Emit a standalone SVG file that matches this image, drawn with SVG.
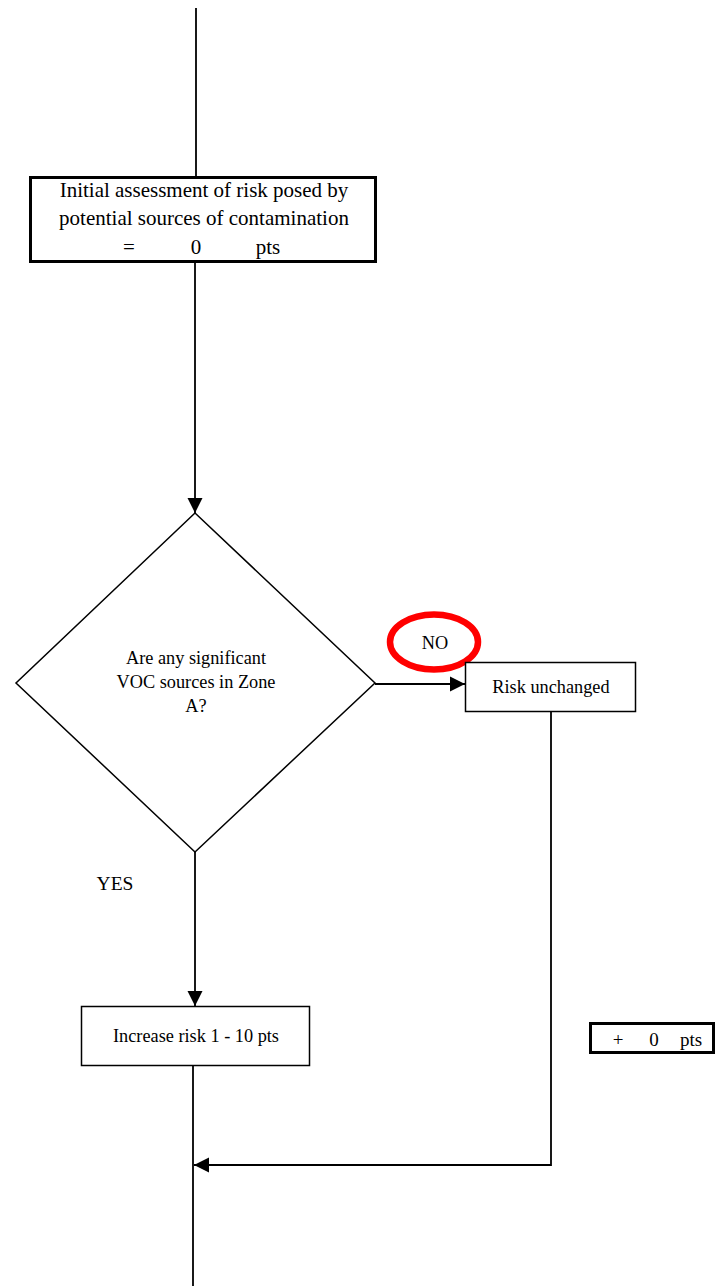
<svg xmlns="http://www.w3.org/2000/svg" width="723" height="1286" viewBox="0 0 723 1286">
<style>
text{font-family:"Liberation Serif","Times New Roman",serif;fill:#000}
.big{font-size:21px}
.mid{font-size:18.3px}
.box{fill:#fff;stroke:#000;stroke-width:1.5}
.thick{fill:#fff;stroke:#000;stroke-width:3}
.ln{fill:none;stroke:#000;stroke-width:1.8}
</style>
<defs>
<marker id="ah" markerUnits="userSpaceOnUse" markerWidth="16" markerHeight="16" viewBox="0 0 16 16" refX="15" refY="8" orient="auto">
<polygon points="0,0.5 15,8 0,15.5" fill="#000"/>
</marker>
</defs>
<g id="connectors">
<line class="ln" x1="196" y1="8" x2="196" y2="176"/>
<line class="ln" x1="195" y1="263" x2="195" y2="513" marker-end="url(#ah)"/>
<line class="ln" x1="375" y1="684" x2="465" y2="684" marker-end="url(#ah)"/>
<line class="ln" x1="195" y1="852" x2="195" y2="1006" marker-end="url(#ah)"/>
<line class="ln" x1="193" y1="1066" x2="193" y2="1286"/>
<polyline class="ln" points="551,712 551,1165 194,1165" marker-end="url(#ah)"/>
</g>
<g id="initial">
<rect class="thick" x="30.5" y="177.5" width="345" height="84"/>
<text class="big" x="204" y="197" text-anchor="middle">Initial assessment of risk posed by</text>
<text class="big" x="204" y="225" text-anchor="middle">potential sources of contamination</text>
<text class="big" x="129" y="254" text-anchor="middle">=</text>
<text class="big" x="196" y="254" text-anchor="middle">0</text>
<text class="big" x="268" y="254" text-anchor="middle">pts</text>
</g>
<g id="decision">
<polygon class="box" points="195,513 375,683 195,852 16,683"/>
<text class="mid" x="196" y="664" text-anchor="middle">Are any significant</text>
<text class="mid" x="196" y="688" text-anchor="middle">VOC sources in Zone</text>
<text class="mid" x="196" y="712" text-anchor="middle">A?</text>
</g>
<g id="no-label">
<ellipse cx="434" cy="642" rx="44" ry="27.5" fill="none" stroke="#ff0000" stroke-width="6.5"/>
<text class="mid" x="435" y="649" text-anchor="middle">NO</text>
</g>
<g id="yes-label">
<text x="115" y="890" text-anchor="middle" style="font-size:19.5px">YES</text>
</g>
<g id="unchanged">
<rect class="box" x="465.5" y="662.5" width="170" height="49"/>
<text class="mid" x="551" y="693" text-anchor="middle">Risk unchanged</text>
</g>
<g id="increase">
<rect class="box" x="81.5" y="1006.5" width="228" height="59"/>
<text class="mid" x="196" y="1042" text-anchor="middle">Increase risk 1 - 10 pts</text>
</g>
<g id="plus-zero">
<rect class="thick" x="590.5" y="1023.5" width="123" height="29"/>
<text x="618" y="1046" text-anchor="middle" style="font-size:19px">+</text>
<text x="654" y="1046" text-anchor="middle" style="font-size:19px">0</text>
<text x="691" y="1046" text-anchor="middle" style="font-size:19px">pts</text>
</g>
</svg>
